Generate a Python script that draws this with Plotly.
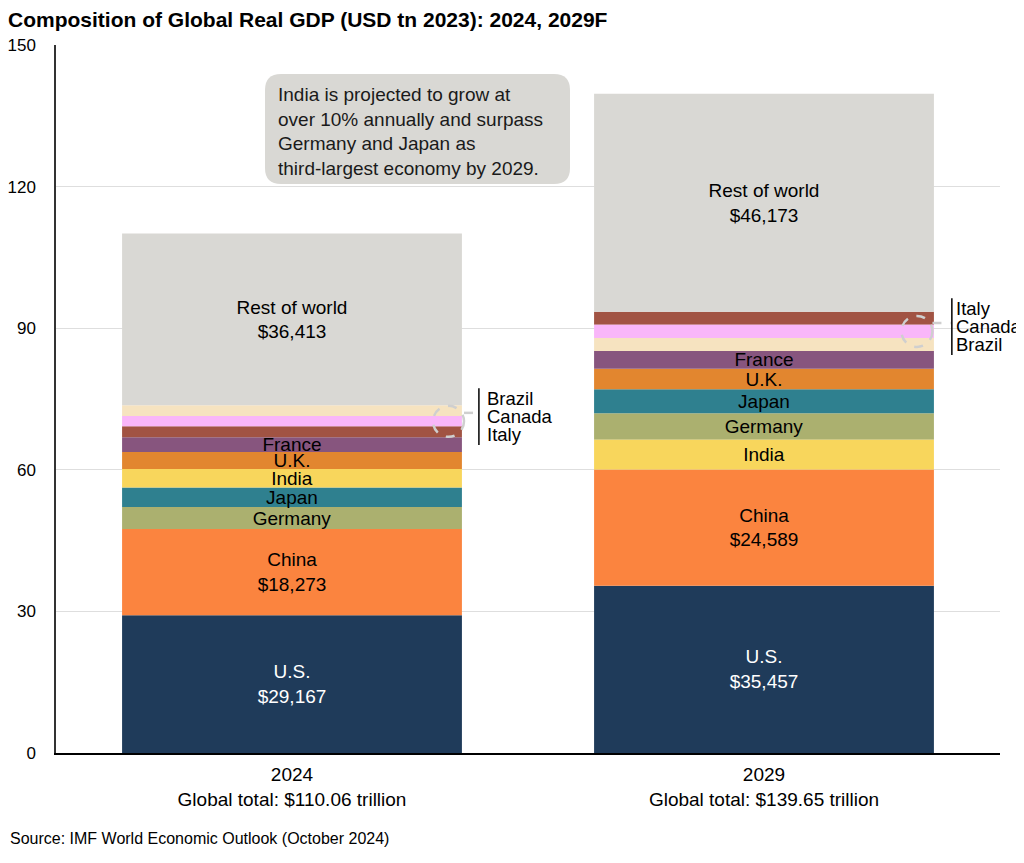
import plotly.graph_objects as go

# GDP in USD bn (constant 2023 prices)
years = ["2024", "2029"]
year_ticks = [
    "2024<br>Global total: $110.06 trillion",
    "2029<br>Global total: $139.65 trillion",
]
countries = ["U.S.", "China", "Germany", "Japan", "India", "U.K.", "France",
             "Italy", "Canada", "Brazil", "Rest of world"]
gdp_2024 = [29167, 18273, 4660, 4170, 3880, 3600, 3120, 2370, 2180, 2230, 36413]
gdp_2029 = [35457, 24589, 5590, 5080, 6330, 4370, 3750, 2730, 2800, 2780, 46173]

# stacking order (bottom to top) differs between the two years
stack_2024 = ["U.S.", "China", "Germany", "Japan", "India", "U.K.", "France",
              "Italy", "Canada", "Brazil", "Rest of world"]
stack_2029 = ["U.S.", "China", "India", "Germany", "Japan", "U.K.", "France",
              "Brazil", "Canada", "Italy", "Rest of world"]

small_ones = ["Italy", "Canada", "Brazil"]
with_value = ["U.S.", "China", "Rest of world"]

COLORS = {
    "U.S.": "#1f3b5a",
    "China": "#fb843f",
    "Germany": "#abb06f",
    "Japan": "#2f808f",
    "India": "#f8d65c",
    "U.K.": "#e2862f",
    "France": "#87557e",
    "Italy": "#a15343",
    "Canada": "#f9b6f9",
    "Brazil": "#f6e3c0",
    "Rest of world": "#d9d8d4",
}

FONT = "Liberation Sans, Arial, sans-serif"
BAR_W = 0.72
W, H = 1016, 847  # page adds an 8px body margin
PLOT_W, PLOT_H = 944, 708


def bases(values, order):
    val = dict(zip(countries, values))
    out, run = {}, 0.0
    for c in order:
        out[c] = run
        run += val[c] / 1000
    return out


base_2024 = bases(gdp_2024, stack_2024)
base_2029 = bases(gdp_2029, stack_2029)

fig = go.Figure()
for i, c in enumerate(countries):
    vals = [gdp_2024[i], gdp_2029[i]]
    if c in small_ones:
        txt = ["", ""]
    elif c in with_value:
        txt = [f"{c}<br>${v:,}" for v in vals]
    else:
        txt = [c, c]
    fig.add_trace(go.Bar(
        x=years,
        y=[v / 1000 for v in vals],
        base=[base_2024[c], base_2029[c]],
        width=BAR_W,
        marker=dict(color=COLORS[c], line_width=0),
        text=txt,
        textposition="inside",
        insidetextanchor="middle",
        constraintext="none",
        textangle=0,
        textfont=dict(family=FONT, size=19,
                      color="white" if c == "U.S." else "black"),
        name=c,
        showlegend=False,
    ))

# callouts for the three thin segments on each bar
callouts = [
    (0, base_2024, stack_2024, 0.3316, 0.396, 0.410),
    (1, base_2029, stack_2029, 0.324, 0.398, 0.405),
]
px_y = PLOT_H / 150  # pixels per unit on the y axis
px_x = PLOT_W / 2
shapes, annos = [], []
for xi, base, order, cx, bx, lx in callouts:
    trio = [c for c in order if c in small_ones]
    vals = dict(zip(countries, gdp_2024 if xi == 0 else gdp_2029))
    lo = base[trio[0]]
    hi = base[trio[-1]] + vals[trio[-1]] / 1000
    mid = (lo + hi) / 2
    rx, ry = 15.5 / px_x, 15.5 / px_y
    shapes.append(dict(type="circle", xref="x", yref="y",
                       x0=xi + cx - rx, x1=xi + cx + rx, y0=mid - ry, y1=mid + ry,
                       line=dict(color="#cfcfcf", width=2.5, dash="dash")))
    conn_y = mid + 8.5 / px_y
    shapes.append(dict(type="line", xref="x", yref="y",
                       x0=xi + cx + rx, x1=xi + bx, y0=conn_y, y1=conn_y,
                       line=dict(color="#cfcfcf", width=2.5, dash="dash")))
    bc = mid + 1.0
    shapes.append(dict(type="line", xref="x", yref="y",
                       x0=xi + bx, x1=xi + bx, y0=bc - 6.0, y1=bc + 6.0,
                       line=dict(color="black", width=1.5)))
    for k, c in enumerate(reversed(trio)):
        annos.append(dict(xref="x", yref="y", x=xi + lx,
                          y=bc + (18 - 18 * k) / px_y,
                          text=c, showarrow=False, xanchor="left", yanchor="middle",
                          borderpad=0,
                          font=dict(family=FONT, size=18.5, color="black")))

# rounded note box
x0, x1, y0, y1 = 0.2214, 0.5445, 0.8037, 0.959
rx, ry = 16 / PLOT_W, 16 / PLOT_H
path = (f"M {x0 + rx},{y0} L {x1 - rx},{y0} Q {x1},{y0} {x1},{y0 + ry} "
        f"L {x1},{y1 - ry} Q {x1},{y1} {x1 - rx},{y1} "
        f"L {x0 + rx},{y1} Q {x0},{y1} {x0},{y1 - ry} "
        f"L {x0},{y0 + ry} Q {x0},{y0} {x0 + rx},{y0} Z")
shapes.append(dict(type="path", xref="paper", yref="paper", path=path,
                   fillcolor="#d9d8d4", line_width=0, layer="above"))
annos.append(dict(xref="paper", yref="paper", x=0.2335, y=0.948,
                  xanchor="left", yanchor="top", align="left", showarrow=False,
                  text="India is projected to grow at<br>over 10% annually and surpass"
                       "<br>Germany and Japan as<br>third-largest economy by 2029.",
                  font=dict(family=FONT, size=19, color="#1a1a1a")))

annos.append(dict(xref="paper", yref="paper", x=-48 / PLOT_W, y=-85 / PLOT_H,
                  xanchor="left", yanchor="middle", showarrow=False,
                  text="Source: IMF World Economic Outlook (October 2024)",
                  font=dict(family=FONT, size=16, color="black")))

fig.update_layout(
    width=W,
    height=H,
    margin=dict(l=48, r=24, t=37, b=102, autoexpand=False),
    paper_bgcolor="white",
    plot_bgcolor="white",
    barmode="overlay",
    title=dict(text="<b>Composition of Global Real GDP (USD tn 2023): 2024, 2029F</b>",
               xref="container", x=0, xanchor="left",
               yref="container", y=1 - 12 / H, yanchor="middle",
               pad=dict(l=0, t=0),
               font=dict(family=FONT, size=21, color="black")),
    font=dict(family=FONT, color="black"),
    shapes=shapes,
    annotations=annos,
    xaxis=dict(
        tickmode="array", tickvals=years, ticktext=year_ticks,
        range=[-0.5, 1.5], automargin=False,
        showline=True, linecolor="black", linewidth=2,
        ticks="", tickfont=dict(size=19), ticklabelstandoff=3,
        showgrid=False, zeroline=False,
    ),
    yaxis=dict(
        range=[0, 150], tickvals=[0, 30, 60, 90, 120, 150], automargin=False,
        showgrid=True, gridcolor="#dedede", gridwidth=1,
        showline=True, linecolor="#333333", linewidth=1.5,
        ticks="", tickfont=dict(size=17), ticklabelstandoff=15,
        zeroline=False,
    ),
)

fig.write_html("out.html")
